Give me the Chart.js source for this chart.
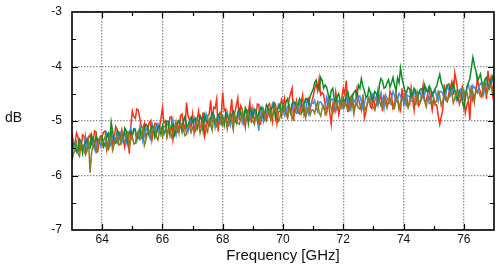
<!DOCTYPE html>
<html>
<head>
<meta charset="utf-8">
<script src="https://cdn.jsdelivr.net/npm/chart.js@4"></script>
<style>
  html, body { margin: 0; padding: 0; background: #fff; }
  canvas { display: block; }
</style>
</head>
<body>
<canvas id="chart" width="498" height="269"></canvas>
<script>
const freq = [
  63.00,63.05,63.10,63.15,63.20,63.25,63.30,63.35,63.40,63.45,63.50,63.55,63.60,63.65,63.70,63.75,63.80,63.85,63.90,63.95,
  64.00,64.05,64.10,64.15,64.20,64.25,64.30,64.35,64.40,64.45,64.50,64.55,64.60,64.65,64.70,64.75,64.80,64.85,64.90,64.95,
  65.00,65.05,65.10,65.15,65.20,65.25,65.30,65.35,65.40,65.45,65.50,65.55,65.60,65.65,65.70,65.75,65.80,65.85,65.90,65.95,
  66.00,66.05,66.10,66.15,66.20,66.25,66.30,66.35,66.40,66.45,66.50,66.55,66.60,66.65,66.70,66.75,66.80,66.85,66.90,66.95,
  67.00,67.05,67.10,67.15,67.20,67.25,67.30,67.35,67.40,67.45,67.50,67.55,67.60,67.65,67.70,67.75,67.80,67.85,67.90,67.95,
  68.00,68.05,68.10,68.15,68.20,68.25,68.30,68.35,68.40,68.45,68.50,68.55,68.60,68.65,68.70,68.75,68.80,68.85,68.90,68.95,
  69.00,69.05,69.10,69.15,69.20,69.25,69.30,69.35,69.40,69.45,69.50,69.55,69.60,69.65,69.70,69.75,69.80,69.85,69.90,69.95,
  70.00,70.05,70.10,70.15,70.20,70.25,70.30,70.35,70.40,70.45,70.50,70.55,70.60,70.65,70.70,70.75,70.80,70.85,70.90,70.95,
  71.00,71.05,71.10,71.15,71.20,71.25,71.30,71.35,71.40,71.45,71.50,71.55,71.60,71.65,71.70,71.75,71.80,71.85,71.90,71.95,
  72.00,72.05,72.10,72.15,72.20,72.25,72.30,72.35,72.40,72.45,72.50,72.55,72.60,72.65,72.70,72.75,72.80,72.85,72.90,72.95,
  73.00,73.05,73.10,73.15,73.20,73.25,73.30,73.35,73.40,73.45,73.50,73.55,73.60,73.65,73.70,73.75,73.80,73.85,73.90,73.95,
  74.00,74.05,74.10,74.15,74.20,74.25,74.30,74.35,74.40,74.45,74.50,74.55,74.60,74.65,74.70,74.75,74.80,74.85,74.90,74.95,
  75.00,75.05,75.10,75.15,75.20,75.25,75.30,75.35,75.40,75.45,75.50,75.55,75.60,75.65,75.70,75.75,75.80,75.85,75.90,75.95,
  76.00,76.05,76.10,76.15,76.20,76.25,76.30,76.35,76.40,76.45,76.50,76.55,76.60,76.65,76.70,76.75,76.80,76.85,76.90,76.95,
  77.00
];

const red = [
  -5.22,-5.48,-5.40,-5.22,-5.30,-5.54,-5.52,-5.25,-5.28,-5.57,-5.45,-5.29,-5.25,-5.43,-5.38,-5.18,-5.20,-5.58,-5.35,-5.27,
  -5.28,-5.20,-5.18,-5.52,-5.36,-5.24,-5.20,-5.44,-5.32,-5.10,-5.15,-5.36,-5.27,-5.16,-5.36,-5.48,-5.22,-5.20,-5.60,-5.10,
  -4.82,-4.92,-4.95,-4.78,-4.80,-4.95,-5.10,-5.15,-5.05,-5.29,-5.22,-5.04,-5.00,-5.35,-5.18,-5.04,-5.05,-5.18,-5.12,-4.96,
  -4.76,-5.04,-5.00,-5.27,-5.12,-4.93,-4.92,-5.34,-5.15,-5.06,-5.05,-5.21,-4.90,-4.87,-5.08,-5.16,-4.66,-4.91,-4.98,-5.11,
  -4.88,-5.22,-5.05,-4.97,-4.82,-5.11,-5.10,-4.84,-5.28,-5.16,-4.90,-4.88,-4.62,-5.02,-4.75,-4.77,-4.60,-5.19,-4.85,-4.88,
  -4.48,-4.81,-4.78,-5.13,-4.95,-4.85,-4.60,-5.06,-4.85,-4.72,-4.58,-4.98,-4.72,-4.79,-4.92,-5.11,-4.80,-4.84,-4.65,-5.04,
  -4.78,-5.00,-4.92,-4.69,-4.70,-5.07,-4.85,-4.79,-4.98,-4.93,-4.72,-4.68,-4.80,-5.00,-4.66,-4.69,-5.04,-4.83,-4.82,-4.61,
  -4.70,-4.58,-4.85,-4.92,-4.60,-4.50,-4.40,-5.00,-4.72,-4.62,-4.85,-4.87,-4.68,-4.53,-4.90,-4.83,-4.62,-4.58,-4.78,-4.66,
  -4.55,-4.42,-4.32,-4.45,-4.22,-4.52,-4.48,-4.52,-4.70,-4.85,-4.62,-4.84,-5.06,-4.71,-4.80,-4.47,-4.64,-4.88,-4.75,-4.58,
  -4.40,-4.51,-4.26,-4.84,-4.60,-4.56,-4.52,-4.77,-4.72,-4.43,-4.58,-4.70,-4.80,-4.52,-4.95,-4.84,-4.66,-4.57,-4.74,-4.77,
  -4.55,-4.74,-4.70,-4.44,-4.62,-4.50,-4.82,-4.55,-4.58,-4.69,-4.68,-4.45,-4.52,-4.78,-4.75,-4.47,-4.62,-4.70,-4.80,-4.40,
  -4.66,-4.49,-4.52,-4.73,-4.70,-4.39,-4.60,-4.80,-4.48,-4.53,-4.72,-4.67,-4.58,-4.34,-4.64,-4.63,-4.50,-4.39,-4.62,-4.80,
  -4.58,-4.71,-4.70,-4.90,-5.06,-4.92,-4.80,-4.33,-4.62,-4.65,-4.50,-4.38,-4.28,-4.52,-4.12,-4.27,-4.45,-4.69,-4.60,-4.38,
  -4.55,-4.85,-4.70,-4.63,-4.98,-4.35,-4.62,-4.55,-4.48,-4.21,-4.38,-4.47,-4.55,-4.40,-4.28,-4.60,-4.08,-4.31,-4.20,-4.51,
  -4.30
];

const blue = [
  -5.67,-5.37,-5.48,-5.58,-5.55,-5.39,-5.39,-5.51,-5.50,-5.28,-5.55,-5.45,-5.40,-5.32,-5.45,-5.53,-5.57,-5.33,-5.34,-5.46,
  -5.35,-5.43,-5.46,-5.22,-5.28,-5.47,-5.38,-5.28,-5.29,-5.37,-5.40,-5.20,-5.22,-5.40,-5.31,-5.19,-5.40,-5.28,-5.22,-5.13,
  -5.26,-5.18,-5.17,-5.33,-5.32,-5.10,-5.19,-5.37,-5.26,-5.18,-5.11,-5.27,-5.33,-5.03,-5.16,-5.22,-5.11,-5.05,-5.22,-5.18,
  -5.11,-5.25,-5.18,-5.08,-5.05,-5.17,-5.12,-4.98,-5.19,-5.27,-5.05,-5.01,-5.12,-5.10,-4.99,-4.93,-5.14,-5.20,-5.05,-4.99,
  -5.00,-4.94,-5.11,-5.15,-5.00,-4.96,-4.94,-5.10,-5.05,-4.87,-4.98,-5.04,-5.09,-4.91,-4.92,-5.12,-4.98,-4.94,-5.03,-5.07,
  -4.94,-5.04,-4.89,-4.83,-4.98,-5.08,-4.90,-4.90,-5.01,-4.99,-4.92,-4.82,-4.83,-5.03,-4.92,-4.82,-4.86,-4.92,-4.95,-4.77,
  -4.84,-4.82,-4.91,-4.97,-5.18,-4.74,-4.77,-5.01,-4.90,-4.82,-4.81,-4.91,-4.84,-4.68,-4.75,-4.87,-4.84,-4.70,-4.77,-4.83,
  -4.76,-4.90,-4.83,-4.73,-4.71,-4.83,-4.78,-4.64,-4.72,-4.86,-4.85,-4.67,-4.72,-4.76,-4.68,-4.60,-4.77,-4.87,-4.71,-4.67,
  -4.68,-4.62,-4.75,-4.83,-4.65,-4.65,-4.70,-4.78,-4.78,-4.56,-4.65,-4.73,-4.60,-4.60,-4.70,-4.82,-4.65,-4.63,-4.73,-4.77,
  -4.64,-4.74,-4.60,-4.54,-4.69,-4.79,-4.61,-4.61,-4.66,-4.70,-4.56,-4.54,-4.64,-4.76,-4.69,-4.55,-4.59,-4.65,-4.60,-4.50,
  -4.58,-4.56,-4.64,-4.72,-4.55,-4.49,-4.61,-4.77,-4.52,-4.58,-4.64,-4.68,-4.58,-4.46,-4.53,-4.65,-4.61,-4.49,-4.54,-4.62,
  -4.60,-4.70,-4.52,-4.54,-4.55,-4.63,-4.64,-4.44,-4.52,-4.66,-4.47,-4.47,-4.59,-4.57,-4.52,-4.40,-4.48,-4.68,-4.67,-4.47,
  -4.49,-4.43,-4.56,-4.64,-4.46,-4.46,-4.49,-4.59,-4.52,-4.36,-4.42,-4.54,-4.49,-4.41,-4.44,-4.62,-4.52,-4.44,-4.41,-4.57,
  -4.44,-4.54,-4.39,-4.33,-4.46,-4.58,-4.35,-4.39,-4.42,-4.48,-4.37,-4.31,-4.34,-4.52,-4.41,-4.31,-4.33,-4.39,-4.34,-4.24,
  -4.30
];

const green = [
  -5.53,-5.41,-5.42,-5.56,-5.57,-5.33,-5.37,-5.59,-5.44,-5.40,-5.33,-5.49,-5.50,-5.26,-5.37,-5.45,-5.27,-5.36,-5.40,-5.30,
  -5.29,-5.47,-5.40,-5.30,-5.23,-5.39,-5.02,-5.20,-5.39,-5.41,-5.18,-5.22,-5.28,-5.30,-5.31,-5.13,-5.18,-5.40,-5.21,-5.19,
  -5.28,-5.14,-5.15,-5.35,-5.20,-5.16,-5.31,-5.29,-5.14,-5.06,-5.09,-5.23,-5.19,-5.09,-5.12,-5.30,-5.23,-5.11,-5.08,-5.24,
  -5.09,-5.21,-5.18,-5.00,-5.01,-5.25,-5.10,-5.06,-5.25,-5.15,-5.03,-4.99,-5.06,-5.20,-4.99,-4.92,-5.10,-5.08,-4.99,-4.93,
  -5.02,-4.98,-4.95,-5.13,-5.06,-4.90,-4.96,-5.18,-4.89,-4.99,-5.02,-5.08,-4.95,-4.85,-4.88,-5.04,-4.98,-4.88,-4.91,-5.01,
  -4.92,-5.08,-4.85,-4.91,-4.96,-5.00,-4.88,-4.82,-4.93,-5.03,-4.84,-4.78,-4.89,-4.93,-4.94,-4.76,-4.84,-5.04,-4.77,-4.83,
  -4.92,-4.78,-4.81,-4.99,-4.84,-4.80,-4.75,-4.93,-4.86,-4.70,-4.75,-4.87,-4.78,-4.74,-4.69,-4.95,-4.80,-4.76,-4.69,-4.89,
  -4.72,-4.80,-4.65,-4.59,-4.75,-4.85,-4.68,-4.66,-4.66,-4.76,-4.71,-4.59,-4.64,-4.80,-4.68,-4.60,-4.59,-4.69,-4.55,-4.48,
  -4.42,-4.30,-4.25,-4.36,-4.43,-4.20,-4.26,-4.40,-4.34,-4.38,-4.51,-4.62,-4.44,-4.40,-4.60,-4.66,-4.55,-4.50,-4.65,-4.70,
  -4.58,-4.66,-4.52,-4.46,-4.61,-4.70,-4.55,-4.48,-4.44,-4.56,-4.34,-4.40,-4.22,-4.36,-4.45,-4.56,-4.55,-4.40,-4.48,-4.62,
  -4.56,-4.46,-4.50,-4.62,-4.33,-4.22,-4.27,-4.40,-4.38,-4.30,-4.24,-4.38,-4.30,-4.20,-4.35,-4.44,-4.21,-4.30,-4.03,-4.22,
  -4.34,-4.46,-4.48,-4.38,-4.41,-4.56,-4.50,-4.40,-4.44,-4.58,-4.51,-4.42,-4.41,-4.50,-4.34,-4.44,-4.46,-4.36,-4.41,-4.54,
  -4.47,-4.40,-4.36,-4.24,-4.14,-4.30,-4.37,-4.48,-4.42,-4.34,-4.32,-4.46,-4.39,-4.30,-4.44,-4.56,-4.62,-4.46,-4.49,-4.64,
  -4.76,-4.58,-4.37,-4.30,-4.22,-4.02,-3.83,-3.98,-4.08,-4.26,-4.21,-4.14,-4.30,-4.38,-4.23,-4.20,-4.33,-4.40,-4.26,-4.18,
  -4.28
];

const olive = [
  -5.72,-5.61,-5.51,-5.40,-5.60,-5.65,-5.41,-5.45,-5.54,-5.62,-5.49,-5.37,-5.95,-5.58,-5.44,-5.37,-5.55,-5.45,-5.33,-5.30,
  -5.45,-5.35,-5.29,-5.50,-5.53,-5.27,-5.34,-5.54,-5.43,-5.35,-5.26,-5.44,-5.43,-5.20,-5.33,-5.39,-5.24,-5.22,-5.47,-5.35,
  -5.28,-5.42,-5.41,-5.25,-5.19,-5.34,-5.31,-5.15,-5.45,-5.36,-5.21,-5.17,-5.29,-5.25,-5.11,-5.08,-5.29,-5.35,-5.20,-5.14,
  -5.28,-5.09,-5.10,-5.30,-5.19,-5.11,-5.30,-5.24,-5.12,-5.01,-5.21,-5.19,-5.04,-5.06,-5.17,-5.27,-5.24,-5.08,-5.10,-5.21,
  -5.12,-5.18,-5.19,-4.97,-5.02,-5.22,-5.12,-5.04,-5.05,-5.13,-5.20,-4.96,-5.05,-5.17,-4.96,-4.96,-5.10,-5.06,-5.05,-4.91,
  -5.06,-4.96,-4.97,-5.11,-5.08,-4.88,-5.00,-5.16,-4.90,-4.97,-5.04,-5.06,-4.96,-4.83,-5.06,-5.02,-4.92,-4.86,-4.97,-4.99,
  -5.00,-5.06,-4.91,-4.89,-5.04,-4.98,-4.87,-4.79,-4.94,-5.00,-4.89,-4.81,-4.98,-4.90,-4.81,-4.73,-4.88,-5.00,-4.93,-4.79,
  -4.84,-4.74,-4.89,-4.95,-4.79,-4.77,-4.96,-4.90,-4.84,-4.68,-4.79,-4.85,-4.88,-4.72,-4.72,-4.94,-4.83,-4.75,-4.89,-4.80,
  -4.80,-4.86,-4.73,-4.65,-4.85,-4.91,-4.76,-4.72,-4.88,-4.82,-4.73,-4.65,-4.78,-4.86,-4.66,-4.66,-4.79,-4.75,-4.73,-4.61,
  -4.76,-4.66,-4.70,-4.82,-4.81,-4.59,-4.67,-4.87,-4.72,-4.68,-4.76,-4.78,-4.68,-4.56,-4.81,-4.75,-4.69,-4.59,-4.64,-4.72,
  -4.74,-4.80,-4.68,-4.64,-4.63,-4.73,-4.75,-4.55,-4.68,-4.76,-4.64,-4.58,-4.70,-4.68,-4.75,-4.51,-4.61,-4.79,-4.66,-4.58,
  -4.62,-4.54,-4.70,-4.76,-4.63,-4.57,-4.58,-4.70,-4.70,-4.48,-4.63,-4.65,-4.55,-4.53,-4.64,-4.74,-4.58,-4.56,-4.65,-4.69,
  -4.59,-4.67,-4.62,-4.46,-4.54,-4.72,-4.63,-4.53,-4.54,-4.62,-4.58,-4.46,-4.47,-4.67,-4.58,-4.46,-4.54,-4.56,-4.49,-4.41,
  -4.54,-4.46,-4.47,-4.61,-4.54,-4.38,-4.47,-4.65,-4.40,-4.46,-4.47,-4.55,-4.52,-4.32,-4.41,-4.51,-4.43,-4.33,-4.36,-4.46,
  -4.38
];

const xTicks = [64, 66, 68, 70, 72, 74, 76];
const yTicks = [-7, -6, -5, -4, -3];
const xMarks = [64, 65, 66, 67, 68, 69, 70, 71, 72, 73, 74, 75, 76];
const yMarks = [-6.5, -6, -5.5, -5, -4.5, -4, -3.5];
const xTitle = 'Frequency [GHz]';
const yTitle = 'dB';

const FONT = '"Liberation Sans", Arial, Helvetica, sans-serif';

const toPoints = (ys) => freq.map((f, i) => ({ x: f, y: ys[i] }));

// frame, inward tick marks and the horizontal "dB" label
const frame = {
  id: 'frame',
  afterDraw(chart) {
    const { ctx, chartArea: a, scales: { x, y } } = chart;
    ctx.save();
    ctx.strokeStyle = '#000';
    ctx.lineWidth = 1.2;
    ctx.beginPath();
    xMarks.forEach(v => {
      const px = Math.round(x.getPixelForValue(v)) + 0.5;
      const len = xTicks.includes(v) ? 6 : 4;
      ctx.moveTo(px, a.bottom); ctx.lineTo(px, a.bottom - len);
      ctx.moveTo(px, a.top); ctx.lineTo(px, a.top + len);
    });
    yMarks.forEach(v => {
      const py = Math.round(y.getPixelForValue(v)) + 0.5;
      const len = yTicks.includes(v) ? 6 : 4;
      ctx.moveTo(a.left, py); ctx.lineTo(a.left + len, py);
      ctx.moveTo(a.right, py); ctx.lineTo(a.right - len, py);
    });
    ctx.stroke();
    ctx.lineWidth = 1.6;
    ctx.strokeRect(a.left, a.top, a.right - a.left, a.bottom - a.top);

    ctx.fillStyle = '#111';
    ctx.font = '14px ' + FONT;
    ctx.textAlign = 'left';
    ctx.textBaseline = 'middle';
    ctx.fillText(yTitle, 5, (a.top + a.bottom) / 2 - 3);
    ctx.restore();
  }
};

const line = (label, data, color) => ({
  label,
  data: toPoints(data),
  borderColor: color,
  borderWidth: 1.5,
  pointRadius: 0,
  fill: false,
  tension: 0
});

new Chart(document.getElementById('chart'), {
  type: 'line',
  data: {
    datasets: [
      line('olive', olive, '#8c7b1c'),
      line('green', green, '#0b8c24'),
      line('blue', blue, '#3a8cff'),
      line('red', red, '#ff2d16')
    ]
  },
  options: {
    responsive: false,
    animation: false,
    devicePixelRatio: 1,
    layout: { padding: { left: 0, right: 4, top: 12, bottom: 0 } },
    plugins: {
      legend: { display: false },
      tooltip: { enabled: false }
    },
    scales: {
      x: {
        type: 'linear',
        min: 63,
        max: 77,
        afterBuildTicks: (s) => { s.ticks = xTicks.map(v => ({ value: v })); },
        afterFit: (s) => { s.height = 39; },
        ticks: {
          padding: 2,
          maxRotation: 0,
          color: '#111',
          font: { family: FONT, size: 12 },
          callback: (v) => String(v)
        },
        grid: { color: '#8e8e8e', lineWidth: 1.3, drawTicks: false },
        border: { display: false, dash: [1.5, 1.5] },
        title: {
          display: true,
          text: xTitle,
          color: '#111',
          font: { family: FONT, size: 15 },
          padding: { top: 0, bottom: 4 }
        }
      },
      y: {
        min: -7,
        max: -3,
        afterBuildTicks: (s) => { s.ticks = yTicks.map(v => ({ value: v })); },
        // keep the label gap but stop it from pushing the plot area down
        afterFit: (s) => { s.width = 72; s.paddingTop = 0; s.paddingBottom = 0; },
        ticks: {
          padding: 10,
          color: '#111',
          font: { family: FONT, size: 12 },
          callback: (v) => String(v)
        },
        grid: { color: '#8e8e8e', lineWidth: 1.3, drawTicks: false },
        border: { display: false, dash: [1.5, 1.5] }
      }
    }
  },
  plugins: [frame]
});
</script>
</body>
</html>
